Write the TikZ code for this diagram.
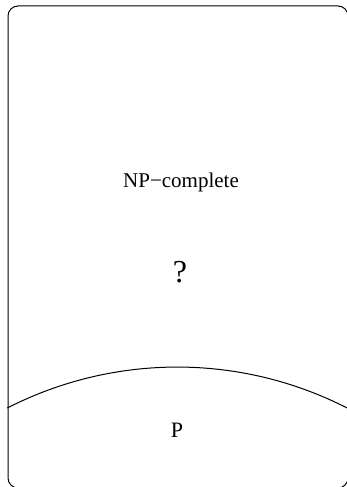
\documentclass[tikz,border=0pt]{standalone}
\usepackage{fontspec}
\setmainfont{Liberation Serif}
\begin{document}
\begin{tikzpicture}[x=1pt,y=1pt,line width=1pt,every node/.style={inner sep=0pt}]
% classes P and NP-complete, boundary unknown
\useasboundingbox (0,0) rectangle (347,487);
\clip (0,0) rectangle (347,487);
\draw[rounded corners=10pt] (8,-1) rectangle (348,481);
\coordinate (arcL) at (7.3,79);
\draw (arcL) arc[start angle=117.1,end angle=62.9,radius=373];
\node[font=\fontsize{21}{25}\selectfont] (np) at (181,305) {NP−complete};
\node[font=\fontsize{32}{36}\selectfont] (q) at (180,215) {?};
\node[font=\fontsize{22}{26}\selectfont] (p) at (177,57) {P};
\end{tikzpicture}
\end{document}
